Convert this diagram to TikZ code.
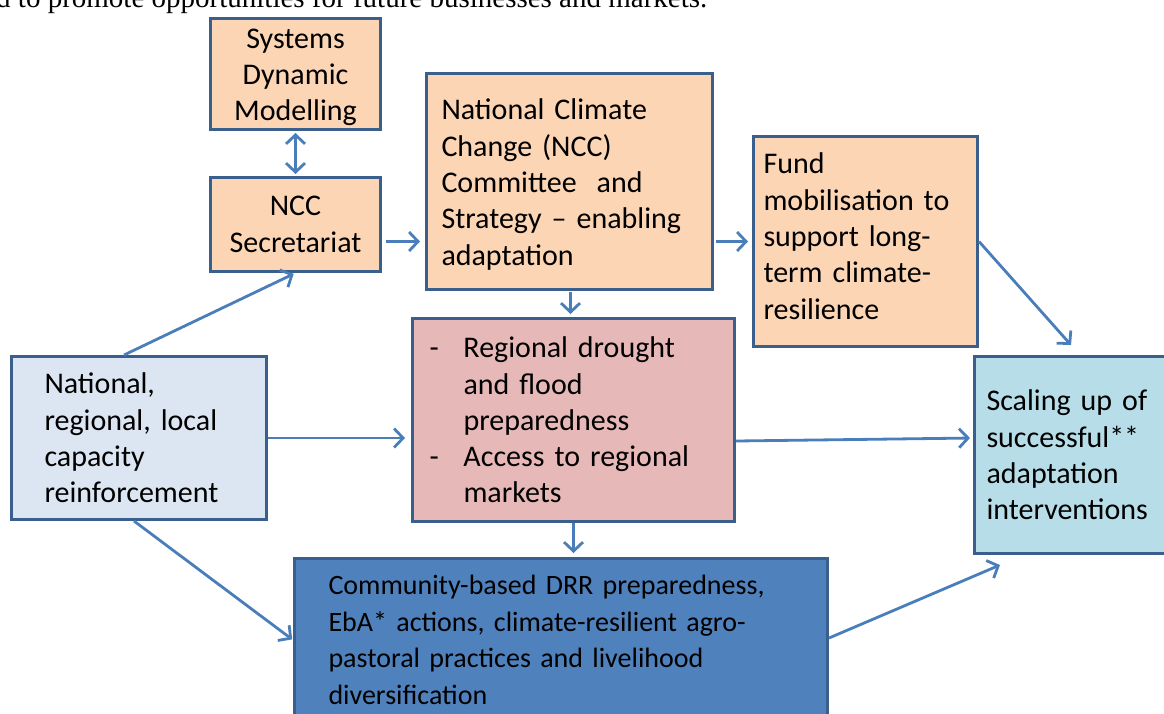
\documentclass[tikz,border=0pt]{standalone}
\usepackage{fontspec}
\setmainfont{Carlito}
\newfontfamily\bodyserif{Liberation Serif}
\usetikzlibrary{arrows.meta,calc}

\definecolor{peach}{HTML}{FCD5B5}
\definecolor{paleblue}{HTML}{DCE6F2}
\definecolor{rose}{HTML}{E6B9B8}
\definecolor{aqua}{HTML}{B7DEE8}
\definecolor{steel}{HTML}{4F81BD}
\definecolor{edge}{HTML}{3A5F8C}
\definecolor{flow}{HTML}{4A7EBB}

\tikzset{
  box/.style={draw=edge, line width=3pt, rectangle, anchor=north west,
    font=\fontsize{30}{36.3}\selectfont, inner ysep=0pt},
  cbox/.style={box, align=center},
  lbox/.style={box, align=left},
  barb/.tip={Straight Barb[length=9pt,width=19pt]},
  flowline/.style={draw=flow, line width=2.8pt, -barb},
}

\begin{document}
\begin{tikzpicture}[x=1pt,y=-1pt]
\useasboundingbox (0,0) rectangle (1164,713);
\clip (0,0) rectangle (1164,713);

% running text of the page above the figure
\node[anchor=base west, inner sep=0pt, font=\bodyserif\fontsize{29}{33}\selectfont]
  (caption) at (-4,7) {d to promote opportunities for future businesses and markets.};

% boxes
\node[cbox, fill=peach, minimum width=170, minimum height=111, text width=160, inner xsep=5]
  (sdm) at (209,17) {\rule{0pt}{26pt}Systems\\Dynamic\\Modelling};
\node[cbox, fill=peach, minimum width=170, minimum height=94, text width=160, inner xsep=5]
  (sec) at (209,176) {NCC\\Secretariat};
\node[lbox, fill=peach, minimum width=286, minimum height=216, text width=256, inner xsep=15]
  (ncc) at (425,72) {\rule{0pt}{27pt}National Climate\\Change (NCC)\\Committee\ \ and\\Strategy -- enabling\\adaptation};
\node[lbox, fill=peach, minimum width=224, minimum height=210, text width=204, inner xsep=10]
  (fund) at (752,135) {Fund\\mobilisation to\\support long-\\term climate-\\resilience\rule[-11pt]{0pt}{11pt}};
\node[lbox, fill=aqua, minimum width=215, minimum height=197, text width=191, inner xsep=12]
  (scale) at (973,355) {Scaling up of\\successful**\\adaptation\\interventions};
\node[lbox, fill=paleblue, minimum width=255, minimum height=163, text width=189, inner xsep=33]
  (nat) at (10,355) {National,\\regional, local\\capacity\\reinforcement};
\node[lbox, fill=rose, minimum width=322, minimum height=203, text width=288, inner xsep=17]
  (reg) at (411,317) {\makebox[34pt][l]{-}Regional drought\\
    \hspace*{34pt}and flood\\
    \hspace*{34pt}preparedness\\
    \makebox[34pt][l]{-}Access to regional\\
    \hspace*{34pt}markets};
\node[lbox, fill=steel, minimum width=533, minimum height=163, text width=465, inner xsep=34,
      font=\fontsize{28}{36.7}\selectfont]
  (comm) at (293,557) {\mbox{Community-based DRR preparedness,}\\\mbox{EbA* actions, climate-resilient agro-}\\\mbox{pastoral practices and livelihood}\\diversification};

% connectors
\draw[flowline, barb-barb, shorten <=2pt, shorten >=2pt]
  (sdm.south) -- (sec.north);
\draw[flowline, shorten <=4pt, shorten >=5pt]
  ([yshift=-17]sec.east) -- ([yshift=-17]sec.east -| ncc.west);
\draw[flowline, shorten <=2pt, shorten >=4pt]
  ([yshift=-60]ncc.east) -- ([yshift=-60]ncc.east -| fund.west);
\draw[flowline, shorten <=1pt, shorten >=3pt]
  ([xshift=1]ncc.south) -- ([xshift=1]ncc.south |- reg.north);
\draw[flowline, shorten >=2pt]
  ([xshift=-15]nat.north) -- (sec.south);
\draw[flowline, shorten >=6pt]
  (nat.east) -- (nat.east -| reg.west);
\draw[flowline, shorten >=1pt]
  ([xshift=-5]nat.south) -- (comm.west);
\draw[flowline, shorten >=3pt]
  ([yshift=-21]reg.east) -- ([yshift=17]scale.west);
\draw[flowline, shorten >=4pt]
  (reg.south) -- (reg.south |- comm.north);
\draw[flowline]
  (fund.east) -- ([xshift=-11,yshift=10]scale.north);
\draw[flowline]
  ([yshift=2]comm.east) -- ([xshift=27,yshift=-10]scale.south west);
\end{tikzpicture}
\end{document}
